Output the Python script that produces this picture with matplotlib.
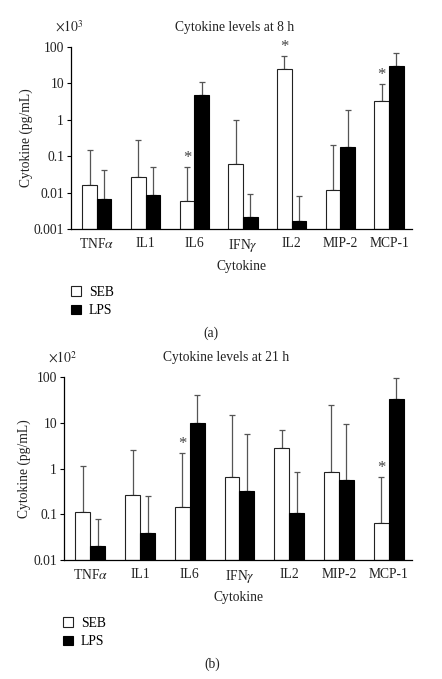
import matplotlib
matplotlib.use("Agg")
import matplotlib.pyplot as plt
import numpy as np

plt.rcParams['font.family'] = ['Liberation Serif', 'DejaVu Serif']
plt.rcParams['mathtext.fontset'] = 'stix'

cytokines = [r"TNF$\alpha$", "IL1", "IL6", r"IFN$\gamma$", "IL2", "MIP-2", "MCP-1"]

# 8 h panel (x10^3 pg/mL)
seb_8h = [0.016, 0.027, 0.006, 0.062, 25, 0.0115, 3.2]
seb_8h_err = [0.15, 0.28, 0.05, 0.97, 56, 0.2, 9.8]
lps_8h = [0.0066, 0.0087, 4.7, 0.0021, 0.0017, 0.175, 31]
lps_8h_err = [0.041, 0.049, 10.7, 0.0093, 0.0079, 1.9, 69]
stars_8h = ["IL6", "IL2", "MCP-1"]

# 21 h panel (x10^2 pg/mL)
seb_21h = [0.112, 0.26, 0.147, 0.65, 2.75, 0.85, 0.066]
seb_21h_err = [1.15, 2.6, 2.2, 15, 6.8, 24, 0.64]
lps_21h = [0.02, 0.038, 9.8, 0.33, 0.108, 0.57, 33]
lps_21h_err = [0.08, 0.25, 40, 5.8, 0.83, 9.3, 97]
stars_21h = ["IL6", "MCP-1"]

W, H = 442, 679
FS = 9.8
TXT = '#222222'
fig = plt.figure(figsize=(W / 100, H / 100), dpi=100)


def px_axes(x0, y0, x1, y1):
    return fig.add_axes([x0 / W, 1 - y1 / H, (x1 - x0) / W, (y1 - y0) / H])


def draw_panel(ax, seb, seb_err, lps, lps_err, stars, ymin, ticks, ylabelpad):
    x = np.arange(len(cytokines))
    w = 0.3
    seb = np.array(seb)
    lps = np.array(lps)
    ax.bar(x - w / 2, seb - ymin, w, bottom=ymin, color='white', edgecolor='#222222',
           linewidth=0.8, label='SEB', zorder=2)
    ax.bar(x + w / 2, lps - ymin, w, bottom=ymin, color='black', edgecolor='black',
           linewidth=0.8, label='LPS', zorder=2)
    # upper error bars only
    ax.errorbar(x - w / 2, seb, yerr=[np.zeros(len(seb)), np.array(seb_err) - seb],
                fmt='none', ecolor='#555555', elinewidth=0.9, capsize=2.5, capthick=0.9, zorder=1)
    ax.errorbar(x + w / 2, lps, yerr=[np.zeros(len(lps)), np.array(lps_err) - lps],
                fmt='none', ecolor='#555555', elinewidth=0.9, capsize=2.5, capthick=0.9, zorder=1)
    for name in stars:
        i = cytokines.index(name)
        ax.text(x[i] - w / 2, seb_err[i] * 1.05, '*', ha='center', va='bottom',
                fontsize=12, color='#444444')
    ax.set_yscale('log')
    ax.set_ylim(ymin, 100)
    ax.set_xlim(-0.53, 6.47)
    ax.set_yticks(ticks)
    ax.set_yticklabels([('%g' % t) for t in ticks], fontsize=FS, color=TXT)
    ax.minorticks_off()
    ax.set_xticks(x)
    ax.set_xticklabels(cytokines, fontsize=FS, color=TXT)
    ax.tick_params(axis='x', length=0, pad=6)
    ax.tick_params(axis='y', length=3, width=0.8, direction='out', pad=2)
    for s in ['top', 'right']:
        ax.spines[s].set_visible(False)
    for s in ['left', 'bottom']:
        ax.spines[s].set_linewidth(0.9)
    ax.set_ylabel('Cytokine (pg/mL)', fontsize=FS, color=TXT, labelpad=ylabelpad)
    ax.set_xlabel('Cytokine', fontsize=FS, color=TXT, labelpad=4)


ax_a = px_axes(71, 47, 412, 229)
draw_panel(ax_a, seb_8h, seb_8h_err, lps_8h, lps_8h_err, stars_8h, 0.001,
           [0.001, 0.01, 0.1, 1, 10, 100], 0.5)
fig.text(235 / W, 1 - 27 / H, 'Cytokine levels at 8 h', ha='center', va='center',
         fontsize=FS, color=TXT)
fig.text(55 / W, 1 - 27 / H, r'$\times10^3$', ha='left', va='center', fontsize=FS, color=TXT)
ax_a.legend(loc='upper left', bbox_to_anchor=(71 / W, 1 - 286 / H), bbox_transform=fig.transFigure,
            frameon=False, fontsize=FS, handlelength=0.7, handleheight=0.7,
            handletextpad=0.6, labelspacing=0.4, borderaxespad=0, borderpad=0)
fig.text(211 / W, 1 - 333 / H, '(a)', ha='center', va='center', fontsize=FS, color=TXT)

ax_b = px_axes(64, 377, 412, 560)
draw_panel(ax_b, seb_21h, seb_21h_err, lps_21h, lps_21h_err, stars_21h, 0.01,
           [0.01, 0.1, 1, 10, 100], 2)
fig.text(226 / W, 1 - 358 / H, 'Cytokine levels at 21 h', ha='center', va='center',
         fontsize=FS, color=TXT)
fig.text(48 / W, 1 - 358 / H, r'$\times10^2$', ha='left', va='center', fontsize=FS, color=TXT)
ax_b.legend(loc='upper left', bbox_to_anchor=(63 / W, 1 - 617 / H), bbox_transform=fig.transFigure,
            frameon=False, fontsize=FS, handlelength=0.7, handleheight=0.7,
            handletextpad=0.6, labelspacing=0.4, borderaxespad=0, borderpad=0)
fig.text(212 / W, 1 - 664 / H, '(b)', ha='center', va='center', fontsize=FS, color=TXT)

fig.savefig('out.png', dpi=100)
